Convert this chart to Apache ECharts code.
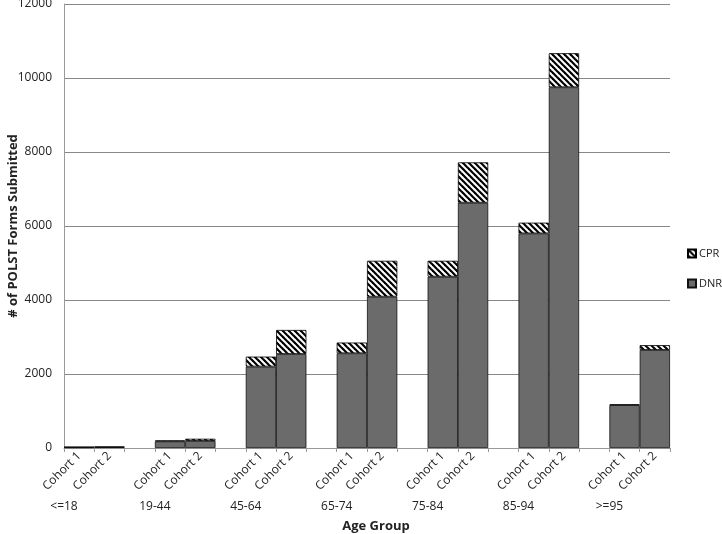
<!DOCTYPE html>
<html>
<head>
<meta charset="utf-8">
<script src="https://cdn.jsdelivr.net/npm/echarts@6/dist/echarts.min.js"></script>
<style>html,body{margin:0;padding:0;background:#fff}#c{width:722px;height:534px}</style>
</head>
<body>
<div id="c"></div>
<script>
// ---- data ----
var ageGroups = ['<=18', '19-44', '45-64', '65-74', '75-84', '85-94', '>=95'];
var cohorts = ['Cohort 1', 'Cohort 2'];
var dnrCohort1 = [20, 180, 2200, 2560, 4630, 5800, 1160];
var cprCohort1 = [10, 25, 270, 290, 430, 290, 20];
var dnrCohort2 = [25, 190, 2540, 4090, 6630, 9750, 2650];
var cprCohort2 = [10, 60, 650, 970, 1090, 920, 130];
var yTicks = [0, 2000, 4000, 6000, 8000, 10000, 12000];

// ---- build slot categories: Cohort1, Cohort2, gap ----
var slots = [], dnrData = [], cprData = [], groupLabels = [];
ageGroups.forEach(function (g, i) {
  slots.push(cohorts[0]); dnrData.push(dnrCohort1[i]); cprData.push(cprCohort1[i]);
  slots.push(cohorts[1]); dnrData.push(dnrCohort2[i]); cprData.push(cprCohort2[i]);
  groupLabels.push(g, '', '');
  if (i < ageGroups.length - 1) { slots.push(''); dnrData.push('-'); cprData.push('-'); }
});
groupLabels = groupLabels.slice(0, slots.length + 1);

// ---- hatch pattern ----
var pc = document.createElement('canvas');
pc.width = 6; pc.height = 6;
var ctx = pc.getContext('2d');
ctx.fillStyle = '#fff'; ctx.fillRect(0, 0, 6, 6);
ctx.strokeStyle = '#000'; ctx.lineWidth = 2.2;
[-6, 0, 6].forEach(function (k) {
  ctx.beginPath(); ctx.moveTo(-1 + k, -1); ctx.lineTo(7 + k, 7); ctx.stroke();
});

var font = 'Open Sans';
var chart = echarts.init(document.getElementById('c'));
chart.setOption({
  animation: false,
  textStyle: { fontFamily: font },
  grid: { left: 64, right: 52, top: 4, bottom: 86, containLabel: false, outerBoundsMode: 'none' },
  legend: {
    orient: 'vertical', left: 687, top: 248, padding: 0,
    icon: 'rect',
    itemWidth: 8, itemHeight: 8, itemGap: 19,
    data: ['CPR', 'DNR'],
    textStyle: { fontFamily: font, fontSize: 11, color: '#222', padding: [0, 0, 0, -2] }
  },
  xAxis: [{
    type: 'category', data: slots,
    axisLine: { lineStyle: { color: '#999' } },
    axisTick: { show: true, interval: 0, length: 4, lineStyle: { color: '#999' } },
    axisLabel: { interval: 0, rotate: 45, margin: 6, fontSize: 12, color: '#222', fontFamily: font }
  }, {
    type: 'category', data: groupLabels, boundaryGap: false, position: 'bottom', offset: 53,
    axisLine: { show: false }, axisTick: { show: false },
    axisLabel: { interval: 0, margin: 0, fontSize: 12, color: '#222', fontFamily: font },
    name: 'Age Group', nameLocation: 'middle', nameGap: 19, nameMoveOverlap: false,
    nameTextStyle: { fontWeight: 'bold', fontSize: 13, color: '#222', fontFamily: font, padding: [0, 0, 0, 18] }
  }],
  yAxis: {
    type: 'value', min: yTicks[0], max: yTicks[yTicks.length - 1], interval: 2000,
    axisLine: { show: true, lineStyle: { color: '#999' } },
    axisTick: { show: false },
    splitLine: { lineStyle: { color: '#888' } },
    axisLabel: { margin: 12, fontSize: 12, color: '#222', fontFamily: font, formatter: function (v) { return String(v); } },
    name: '# of POLST Forms Submitted', nameLocation: 'middle', nameGap: 44, nameMoveOverlap: false,
    nameTextStyle: { fontWeight: 'bold', fontSize: 13, color: '#222', fontFamily: font }
  },
  series: [{
    name: 'DNR', type: 'bar', stack: 'total', data: dnrData,
    barCategoryGap: 0, barGap: 0,
    itemStyle: { color: '#6b6b6b', borderColor: '#111', borderWidth: 0.8 }
  }, {
    name: 'CPR', type: 'bar', stack: 'total', data: cprData,
    barCategoryGap: 0, barGap: 0,
    itemStyle: { color: { image: pc, repeat: 'repeat' }, borderColor: '#000', borderWidth: 0.8 }
  }]
});
</script>
</body>
</html>
